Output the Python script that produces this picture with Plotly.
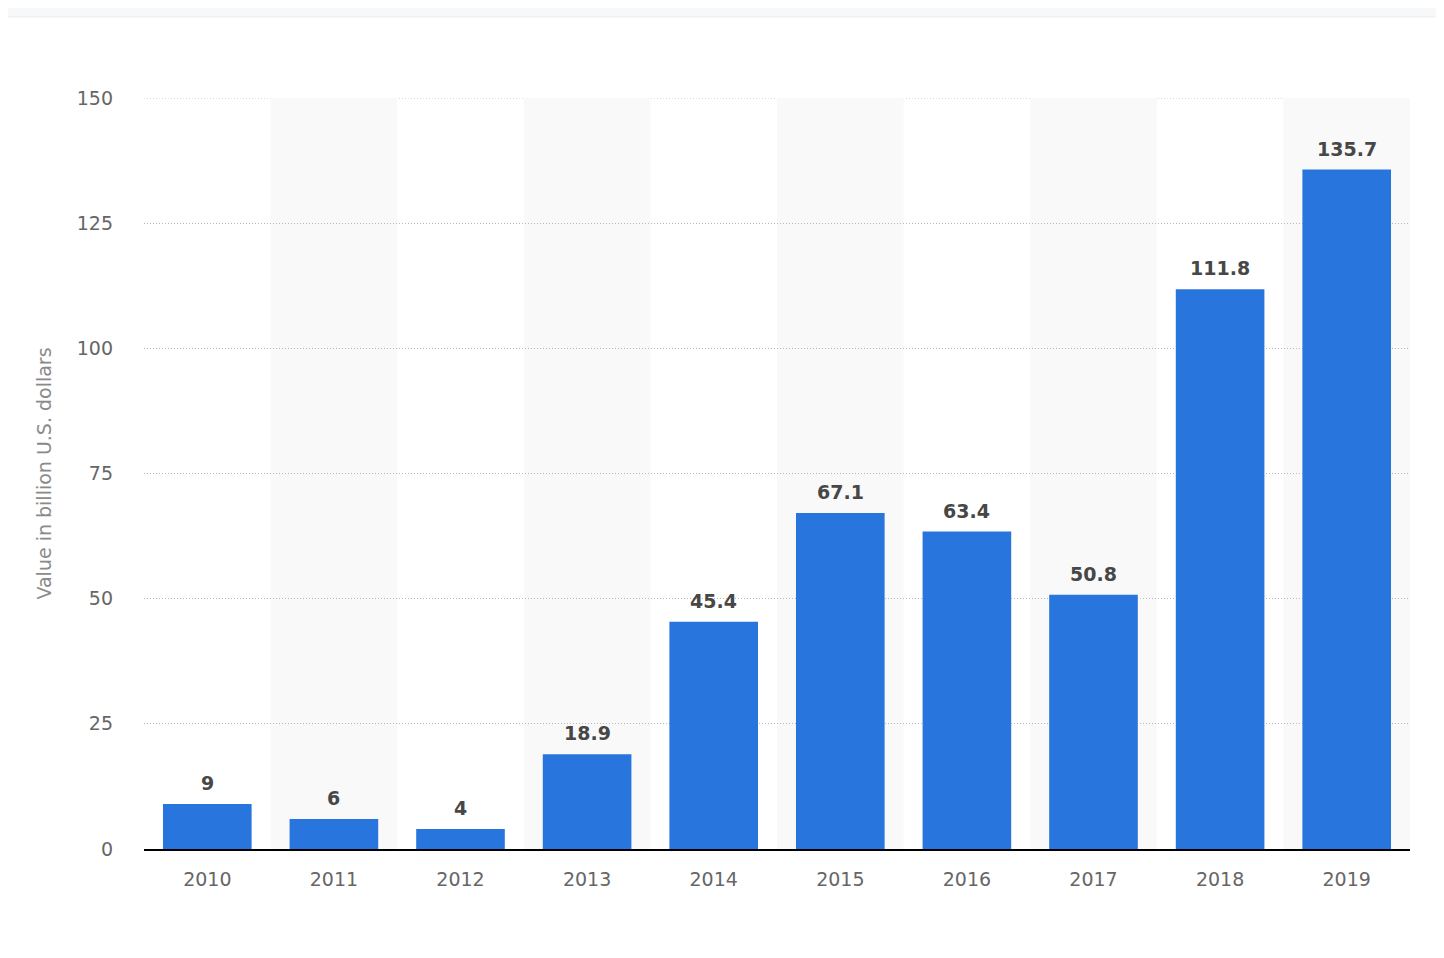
import plotly.graph_objects as go

# Data
years = ["2010", "2011", "2012", "2013", "2014", "2015", "2016", "2017", "2018", "2019"]
values = [9, 6, 4, 18.9, 45.4, 67.1, 63.4, 50.8, 111.8, 135.7]
y_ticks = [0, 25, 50, 75, 100, 125, 150]

bar_color = "#2876dd"
font_family = "DejaVu Sans, sans-serif"
grid_color = "#b8b8b8"

fig = go.Figure()

fig.add_trace(go.Bar(
    x=years,
    y=values,
    marker=dict(color=bar_color, line=dict(width=0)),
    showlegend=False,
    hoverinfo="x+y",
))

# value labels above the bars (category index as x, strings like "2010" get read as numbers)
for i, v in enumerate(values):
    fig.add_annotation(
        x=i, y=v, text=f"<b>{v:g}</b>",
        showarrow=False, yanchor="bottom", yshift=8,
        font=dict(size=19, color="#474747", family=font_family),
    )

# Alternating light bands behind every second category
shapes = []
for i in range(len(years)):
    if i % 2 == 1:
        shapes.append(dict(
            type="rect", xref="x", yref="y",
            x0=i - 0.5, x1=i + 0.5, y0=0, y1=150,
            fillcolor="#f9f9f9", line=dict(width=0), layer="below",
        ))
# top gridline sits on the edge of the plot, draw it by hand
shapes.append(dict(
    type="line", xref="paper", yref="y",
    x0=0, x1=1, y0=150, y1=150,
    line=dict(color=grid_color, width=1, dash="1px,2px"), layer="below",
))
# grey strip at the top of the page
shapes.append(dict(
    type="rect", xref="paper", yref="paper",
    x0=-0.2, x1=1.1, y0=1.108, y1=1.2,
    fillcolor="#f7f8fa", line=dict(color="#ededed", width=1), layer="below",
))
fig.update_layout(shapes=shapes)

fig.update_layout(
    width=1444,
    height=958,
    margin=dict(l=136, r=42, t=90, b=117),
    paper_bgcolor="white",
    plot_bgcolor="white",
    bargap=0.3,
    font=dict(family=font_family, color="#666666"),
    xaxis=dict(
        type="category",
        range=[-0.5, len(years) - 0.5],
        showgrid=False,
        showline=True,
        linecolor="#000000",
        linewidth=2,
        ticks="",
        tickfont=dict(size=19, color="#666666"),
        ticklabelstandoff=12,
    ),
    yaxis=dict(
        range=[0, 150],
        tickvals=y_ticks,
        showgrid=True,
        gridcolor=grid_color,
        griddash="1px,2px",
        gridwidth=1,
        zeroline=False,
        showline=False,
        ticks="",
        tickfont=dict(size=19, color="#666666"),
        ticklabelstandoff=30,
        title=dict(
            text="Value in billion U.S. dollars",
            font=dict(size=19, color="#8a8a8a"),
            standoff=20,
        ),
    ),
)

fig.write_html("out.html")
